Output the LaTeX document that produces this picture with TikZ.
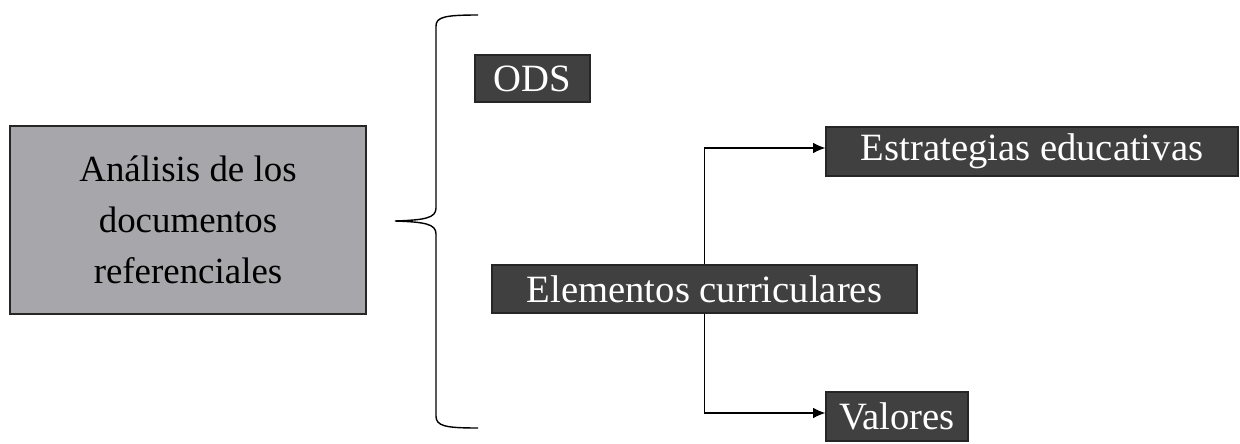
\documentclass[tikz,border=0pt]{standalone}
\usepackage{fontspec}
\setmainfont{Liberation Serif}
\usetikzlibrary{arrows.meta}
\definecolor{boxgray}{HTML}{A7A7AB}
\definecolor{boxdark}{HTML}{404040}
\tikzset{
  lightbox/.style={draw=black!85, line width=0.8pt, fill=boxgray, inner sep=0pt, align=center, font=\fontsize{21}{29}\selectfont},
  darkbox/.style={draw=black!85, line width=0.6pt, fill=boxdark, text=white, inner sep=0pt, align=center, font=\fontsize{22}{26}\selectfont},
  conn/.style={line width=0.7pt, -{Latex[length=7pt,width=6pt]}},
}
\begin{document}
\begin{tikzpicture}[x=0.02cm,y=-0.02cm]
\useasboundingbox (0,0) rectangle (1240,443);
\node[lightbox, minimum width=356*0.02cm, minimum height=188*0.02cm] (ana) at (188,220) {Análisis de los\\documentos\\referenciales};
\node[darkbox, minimum width=115*0.02cm, minimum height=47*0.02cm] (ods) at (532.5,78.5) {ODS};
\node[darkbox, minimum width=412*0.02cm, minimum height=49*0.02cm] (estr) at (1032,151.5) {Estrategias educativas};
\node[darkbox, minimum width=425*0.02cm, minimum height=48*0.02cm] (elem) at (704.5,289) {Elementos curriculares};
\node[darkbox, minimum width=142*0.02cm, minimum height=49*0.02cm] (val) at (897,416.5) {Valores};
\coordinate (bt) at (478,15);
\coordinate (bb) at (478,428);
\coordinate (tip) at (395,221);
\draw[line width=0.8pt] (bt) .. controls (445,15) and (436,17) .. (436,26)
  -- (436,208) .. controls (436,218) and (425,220) .. (tip)
  .. controls (425,222) and (436,224) .. (436,234)
  -- (436,416) .. controls (436,426) and (445,428) .. (bb);
\draw[conn] (elem.north) |- ([yshift=2pt]estr.west);
\draw[conn] (elem.south) |- ([yshift=2pt]val.west);
\end{tikzpicture}
\end{document}
